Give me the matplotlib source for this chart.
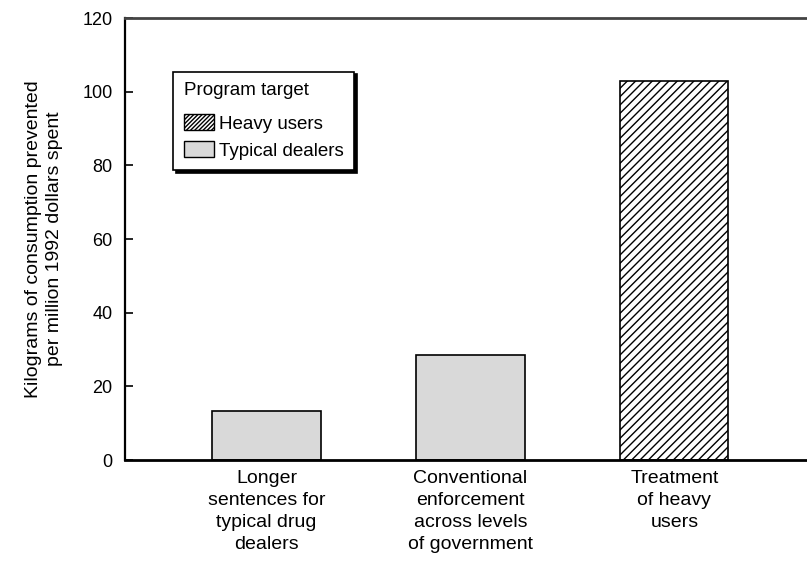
import matplotlib
matplotlib.use('Agg')
import matplotlib.pyplot as plt
from matplotlib.patches import Patch

plt.rcParams['font.family'] = ['Liberation Sans', 'DejaVu Sans']
plt.rcParams['hatch.linewidth'] = 1.0

programs = ['Longer\nsentences for\ntypical drug\ndealers',
            'Conventional\nenforcement\nacross levels\nof government',
            'Treatment\nof heavy\nusers']
values = [13.3, 28.5, 102.9]
targets = ['dealers', 'dealers', 'heavy']
ylabel = 'Kilograms of consumption prevented\nper million 1992 dollars spent'
yticks = [0, 20, 40, 60, 80, 100, 120]

fig = plt.figure(figsize=(8.07, 5.67), dpi=100)
ax = fig.add_axes([0.1549, 0.1887, 0.8451, 0.7795])

xs = list(range(len(programs)))
for x, v, t in zip(xs, values, targets):
    if t == 'heavy':
        ax.bar(x, v, 0.53, facecolor='white', edgecolor='black', hatch='////', linewidth=1.2)
    else:
        ax.bar(x, v, 0.53, facecolor='#d9d9d9', edgecolor='black', linewidth=1.2)

ax.set_xlim(-0.694, 2.65)
ax.set_ylim(0, 120)
ax.set_yticks(yticks)
ax.set_xticks(xs, programs)
ax.tick_params(axis='x', length=0, pad=7, labelsize=14)
ax.tick_params(axis='y', direction='in', length=6, width=1.2, labelsize=13, pad=9)
for lab in ax.get_xticklabels():
    lab.set_linespacing(1.4)
    lab.set_verticalalignment('top')

ax.spines['right'].set_visible(False)
ax.spines['top'].set_color('#444444')
ax.spines['top'].set_linewidth(2)
ax.spines['bottom'].set_linewidth(2)
ax.spines['left'].set_linewidth(1.6)

ax.set_ylabel(ylabel, fontsize=14, linespacing=1.32, labelpad=14)

handles = [Patch(facecolor='white', edgecolor='black', hatch='////////', label='Heavy users'),
           Patch(facecolor='#d9d9d9', edgecolor='black', label='Typical dealers')]
leg = ax.legend(handles=handles, title='Program target', loc='upper left',
                bbox_to_anchor=(0.057, 0.90), fontsize=13.5, title_fontsize=13.5,
                frameon=True, fancybox=False, shadow={'color': 'black', 'alpha': 1},
                edgecolor='black', framealpha=1, handlelength=1.6, handleheight=0.95,
                handletextpad=0.3, borderpad=0.55, labelspacing=0.45)
leg._legend_box.align = 'left'
leg._legend_box.sep = 11
leg.get_frame().set_linewidth(1.2)

plt.savefig('out.png', dpi=100)
